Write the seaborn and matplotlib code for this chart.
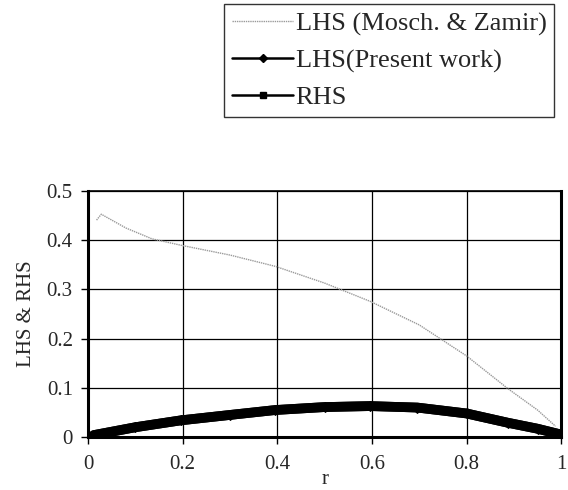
import matplotlib
matplotlib.use("Agg")
import matplotlib.pyplot as plt
from matplotlib.lines import Line2D
import seaborn as sns
import pandas as pd

r_mz = [0.018, 0.028, 0.08, 0.135, 0.196, 0.3, 0.396, 0.5, 0.596, 0.7, 0.8, 0.888, 0.95, 0.988]
lhs_mz = [0.441, 0.453, 0.425, 0.403, 0.39, 0.37, 0.347, 0.313, 0.276, 0.228, 0.165, 0.098, 0.055, 0.022]

r_pw = [0.012, 0.1, 0.196, 0.3, 0.396, 0.5, 0.596, 0.696, 0.8, 0.888, 0.95, 0.996]
lhs_pw = [0.004, 0.02, 0.034, 0.045, 0.055, 0.061, 0.063, 0.06, 0.048, 0.029, 0.017, 0.006]
rhs = [0.004, 0.02, 0.034, 0.045, 0.055, 0.061, 0.063, 0.06, 0.048, 0.029, 0.017, 0.006]

labels = ["LHS (Mosch. & Zamir)", "LHS(Present work)", "RHS"]
xticks = [0, 0.2, 0.4, 0.6, 0.8, 1]
xticklabels = ["0", "0.2", "0.4", "0.6", "0.8", "1"]
yticks = [0, 0.1, 0.2, 0.3, 0.4, 0.5]
yticklabels = ["0", "0.1", "0.2", "0.3", "0.4", "0.5"]

sns.set_style("white")
plt.rcParams["font.family"] = ["Liberation Serif", "DejaVu Serif"]

fig = plt.figure(figsize=(5.68, 4.90), dpi=100)
ax = fig.add_axes([0.155, 0.108, 0.833, 0.502])

df_mz = pd.DataFrame({"r": r_mz, "v": lhs_mz})
df_pw = pd.DataFrame({"r": r_pw, "v": lhs_pw})
df_rhs = pd.DataFrame({"r": r_pw, "v": rhs})

sns.lineplot(data=df_mz, x="r", y="v", ax=ax, color="#9a9a9a", lw=1.0,
             linestyle=(0, (1, 0.6)), legend=False)
sns.lineplot(data=df_pw, x="r", y="v", ax=ax, color="black", lw=7,
             marker="D", markersize=5, markeredgecolor="black", legend=False)
sns.lineplot(data=df_rhs, x="r", y="v", ax=ax, color="black", lw=7,
             marker="s", markersize=5, markeredgecolor="black", legend=False)

ax.set_xlim(0, 1)
ax.set_ylim(0, 0.5)
ax.set_xticks(xticks)
ax.set_xticklabels(xticklabels)
ax.set_yticks(yticks)
ax.set_yticklabels(yticklabels)
ax.grid(True, color="black", lw=0.9)
ax.tick_params(axis="both", labelsize=15, direction="out", length=5, width=1,
               color="black", bottom=True, left=True)
ax.tick_params(axis="x", pad=8)
ax.tick_params(axis="y", pad=6)
for s in ["left", "bottom", "right"]:
    ax.spines[s].set_color("black")
    ax.spines[s].set_linewidth(2.2)
ax.spines["top"].set_color("black")
ax.spines["top"].set_linewidth(1.2)
ax.set_xlabel("r", fontsize=15, labelpad=-3)
ax.set_ylabel("LHS & RHS", fontsize=15, labelpad=8)

handles = [
    Line2D([], [], color="#9a9a9a", lw=1.0, linestyle=(0, (1, 0.6))),
    Line2D([], [], color="black", lw=1.8, marker="D", markersize=4, markeredgecolor="black"),
    Line2D([], [], color="black", lw=1.8, marker="s", markersize=4, markeredgecolor="black"),
]
leg = fig.legend(handles, labels, loc="upper left", bbox_to_anchor=(0.395, 0.992),
                 fontsize=19, frameon=True, fancybox=False, handlelength=2.3,
                 handletextpad=0.1, borderpad=0.3, labelspacing=0.5,
                 borderaxespad=0)
leg.get_frame().set_edgecolor("black")
leg.get_frame().set_linewidth(1.0)

fig.savefig("out.png", dpi=100)
